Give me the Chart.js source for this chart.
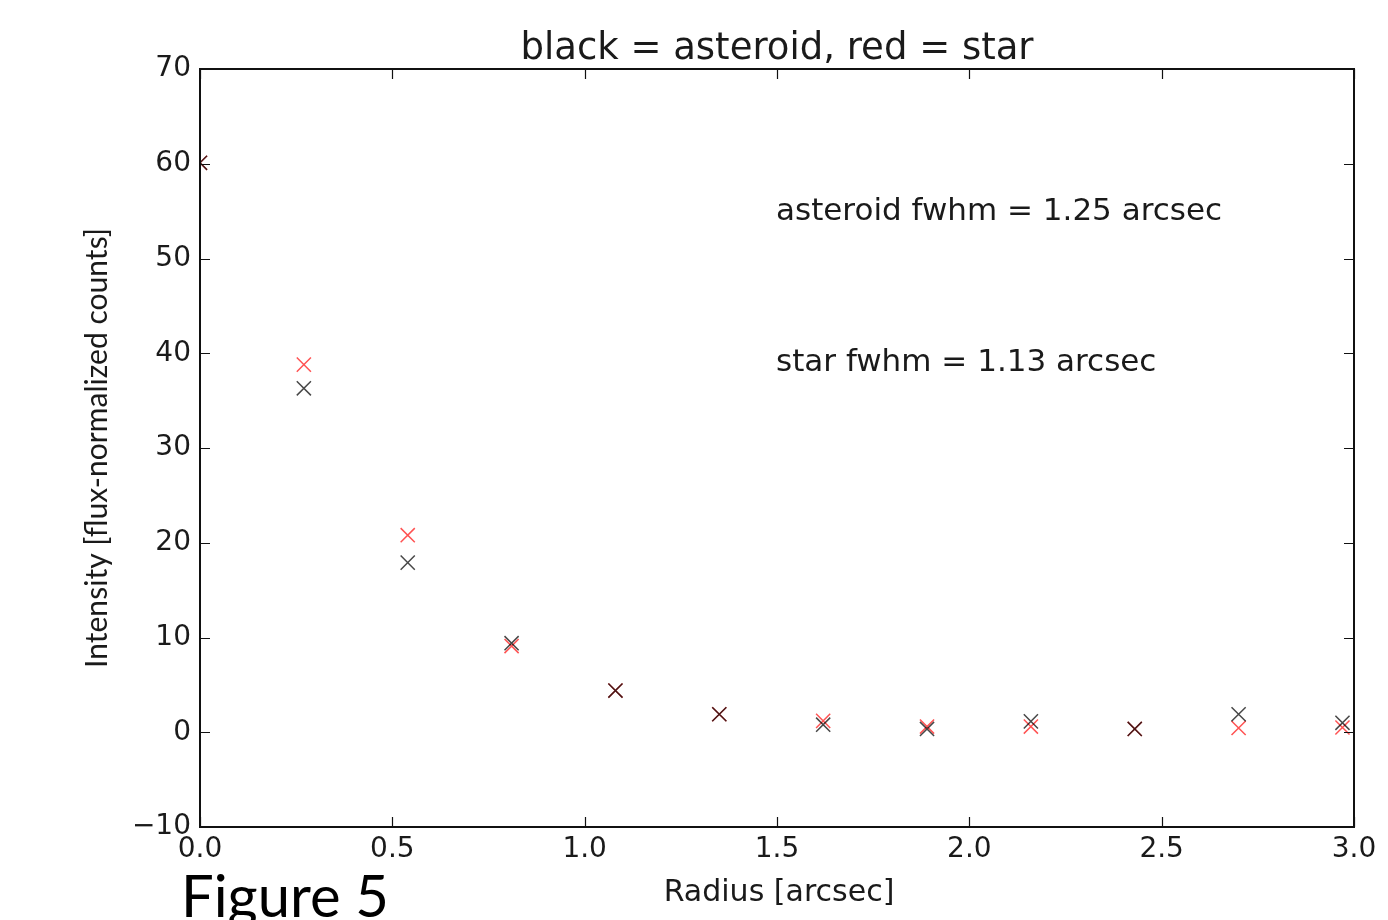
<!DOCTYPE html>
<html>
<head>
<meta charset="utf-8">
<script src="https://cdn.jsdelivr.net/npm/chart.js@4/dist/chart.umd.min.js"></script>
<style>
  html, body { margin: 0; padding: 0; background: #fff; }
  #wrap { width: 1388px; height: 920px; }
</style>
</head>
<body>
<div id="wrap"><canvas id="c" width="1388" height="920"></canvas></div>
<script>
// ---- data ----
const radius   = [0.0, 0.27, 0.54, 0.81, 1.08, 1.35, 1.62, 1.89, 2.16, 2.43, 2.70, 2.97];
const asteroid = [60.1, 36.3, 17.9, 9.4, 4.4, 1.9, 0.8, 0.35, 1.15, 0.35, 1.9, 1.0];
const star     = [60.1, 38.8, 20.8, 9.1, 4.4, 1.9, 1.2, 0.6, 0.6, 0.35, 0.45, 0.5];

const xTickValues = [0.0, 0.5, 1.0, 1.5, 2.0, 2.5, 3.0];
const xTickLabels = ["0.0", "0.5", "1.0", "1.5", "2.0", "2.5", "3.0"];
const yTickValues = [-10, 0, 10, 20, 30, 40, 50, 60, 70];
const yTickLabels = ["\u221210", "0", "10", "20", "30", "40", "50", "60", "70"];

const titleText = "black = asteroid, red = star";
const xLabel = "Radius [arcsec]";
const yLabel = "Intensity [flux-normalized counts]";
const figureCaption = "Figure 5";
const notes = [
  { x: 1.5, y: 54.1, text: "asteroid fwhm = 1.25 arcsec" },
  { x: 1.5, y: 38.1, text: "star fwhm = 1.13 arcsec" }
];

// ---- decorations plugin ----
const decor = {
  id: 'decor',
  afterDraw(chart) {
    const { ctx, chartArea: a, scales: { x, y } } = chart;
    ctx.save();
    ctx.strokeStyle = '#111';
    // inward ticks on all four sides
    ctx.lineWidth = 1.2;
    ctx.beginPath();
    xTickValues.forEach(v => {
      const px = Math.round(x.getPixelForValue(v)) + 0.5;
      ctx.moveTo(px, a.bottom); ctx.lineTo(px, a.bottom - 10);
      ctx.moveTo(px, a.top); ctx.lineTo(px, a.top + 10);
    });
    yTickValues.forEach(v => {
      const py = Math.round(y.getPixelForValue(v)) + 0.5;
      ctx.moveTo(a.left, py); ctx.lineTo(a.left + 10, py);
      ctx.moveTo(a.right, py); ctx.lineTo(a.right - 10, py);
    });
    ctx.stroke();
    // frame
    ctx.lineWidth = 2;
    ctx.strokeRect(a.left, a.top, a.right - a.left, a.bottom - a.top);

    ctx.fillStyle = '#1a1a1a';
    // title
    ctx.font = '37px "DejaVu Sans"';
    ctx.textAlign = 'center';
    ctx.textBaseline = 'alphabetic';
    ctx.fillText(titleText, (a.left + a.right) / 2, 59);
    // x label
    ctx.font = '30px "DejaVu Sans"';
    ctx.fillText(xLabel, (a.left + a.right) / 2 + 2, 901);
    // annotations
    ctx.font = '31px "DejaVu Sans"';
    ctx.textAlign = 'left';
    notes.forEach(n => {
      ctx.fillText(n.text, x.getPixelForValue(n.x) - 1, y.getPixelForValue(n.y));
    });
    // y label (Calibri-like)
    ctx.font = '30px Lato';
    const w30 = ctx.measureText(yLabel).width;
    const ySize = 30 * 440 / w30;
    ctx.font = ySize.toFixed(2) + 'px Lato';
    ctx.save();
    ctx.translate(107, (a.top + a.bottom) / 2);
    ctx.rotate(-Math.PI / 2);
    ctx.textAlign = 'center';
    ctx.fillText(yLabel, 0, 0);
    ctx.restore();
    // figure caption
    ctx.font = '50px Lato';
    const wf = ctx.measureText(figureCaption).width;
    const fSize = 50 * 208 / wf;
    ctx.font = fSize.toFixed(2) + 'px Lato';
    ctx.fillStyle = '#000';
    ctx.textAlign = 'left';
    ctx.fillText(figureCaption, 181, 917);
    ctx.restore();
  }
};

const toPts = ys => radius.map((r, i) => ({ x: r, y: ys[i] }));

new Chart(document.getElementById('c'), {
  type: 'scatter',
  data: {
    datasets: [
      {
        label: 'asteroid',
        data: toPts(asteroid),
        pointStyle: 'crossRot',
        radius: 10,
        hoverRadius: 10,
        borderWidth: 1.5,
        borderColor: 'rgba(0,0,0,0.72)',
        backgroundColor: 'rgba(0,0,0,0.72)',
        clip: 0
      },
      {
        label: 'star',
        data: toPts(star),
        pointStyle: 'crossRot',
        radius: 10,
        hoverRadius: 10,
        borderWidth: 1.5,
        borderColor: 'rgba(255,0,0,0.68)',
        backgroundColor: 'rgba(255,0,0,0.68)',
        clip: 0
      }
    ]
  },
  options: {
    responsive: false,
    animation: false,
    events: [],
    layout: { padding: { left: 0, right: 34, top: 69, bottom: 0 } },
    plugins: { legend: { display: false }, title: { display: false }, tooltip: { enabled: false } },
    scales: {
      x: {
        type: 'linear',
        min: 0, max: 3,
        afterBuildTicks: s => { s.ticks = xTickValues.map(v => ({ value: v })); },
        afterFit: s => { s.height = 93; },
        grid: { display: false, drawTicks: false },
        border: { display: false },
        ticks: {
          padding: 6,
          maxRotation: 0,
          autoSkip: false,
          color: '#1a1a1a',
          font: { family: '"DejaVu Sans"', size: 28 },
          callback: (v, i) => xTickLabels[i]
        }
      },
      y: {
        type: 'linear',
        min: -10, max: 70,
        afterBuildTicks: s => { s.ticks = yTickValues.map(v => ({ value: v })); },
        afterFit: s => { s.width = 200; },
        grid: { display: false, drawTicks: false },
        border: { display: false },
        ticks: {
          padding: 9,
          autoSkip: false,
          color: '#1a1a1a',
          font: { family: '"DejaVu Sans"', size: 28 },
          callback: (v, i) => yTickLabels[i]
        }
      }
    }
  },
  plugins: [decor]
});
</script>
</body>
</html>
